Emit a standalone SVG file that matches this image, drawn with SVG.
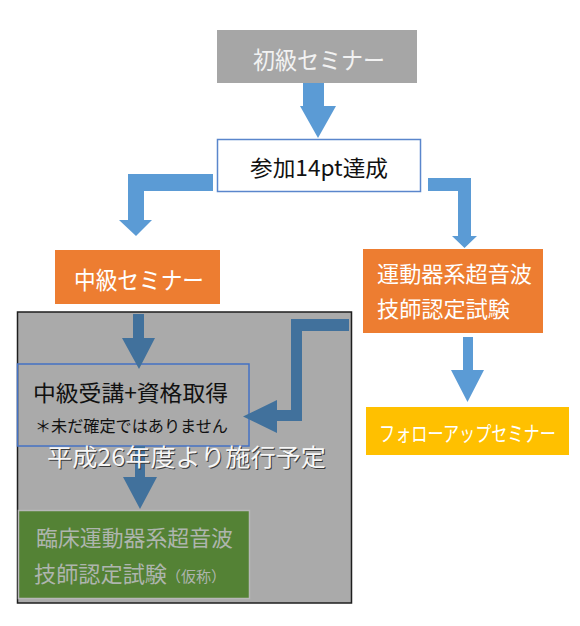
<svg xmlns="http://www.w3.org/2000/svg" width="580" height="626" viewBox="0 0 580 626">
<style>
text{font-family:"Noto Sans CJK JP","Noto Sans",sans-serif}
.lb{fill:#5b9bd5}
.db{fill:#41719c}
.w{fill:#ffffff}
.k{fill:#111111}
</style>
<rect x="0" y="0" width="580" height="626" fill="#ffffff"/>
<g id="frame">
<rect x="17.5" y="312" width="334" height="291" fill="#aaaaaa" stroke="#1e1e1e" stroke-width="1.5"/>
</g>
<g id="shokyu">
<rect x="217" y="30" width="200" height="53" fill="#a6a6a6"/>
<text x="253" y="68.5" font-size="24" fill="#f2f2f2" textLength="132" lengthAdjust="spacingAndGlyphs">初級セミナー</text>
</g>
<g id="sanka">
<rect x="217.5" y="139.5" width="203" height="52" fill="#ffffff" stroke="#5a86cc" stroke-width="1.5"/>
<text x="250" y="175.5" font-size="22" class="k" textLength="138" lengthAdjust="spacingAndGlyphs">参加14pt達成</text>
</g>
<g id="chukyu">
<rect x="55" y="250" width="165" height="54" fill="#ed7d31"/>
<text x="74" y="288.5" font-size="24" class="w" textLength="130" lengthAdjust="spacingAndGlyphs">中級セミナー</text>
</g>
<g id="undouki">
<rect x="363" y="249" width="180" height="84" fill="#ed7d31"/>
<text x="377" y="281.5" font-size="22" class="w" textLength="155" lengthAdjust="spacingAndGlyphs">運動器系超音波</text>
<text x="377" y="316.5" font-size="22" class="w" textLength="133" lengthAdjust="spacingAndGlyphs">技師認定試験</text>
</g>
<g id="followup">
<rect x="366" y="407" width="203" height="48" fill="#ffc000"/>
<text transform="translate(379,441) scale(0.8,1)" x="0" y="0" font-size="21" class="w" textLength="221" lengthAdjust="spacingAndGlyphs">フォローアップセミナー</text>
</g>
<g id="jukou">
<rect x="17.5" y="364" width="231.5" height="82" fill="none" stroke="#4472c4" stroke-width="1.5"/>
<text x="33" y="400.5" font-size="22" class="k" textLength="195" lengthAdjust="spacingAndGlyphs">中級受講+資格取得</text>
<text x="35" y="432" font-size="16" class="k" textLength="193" lengthAdjust="spacingAndGlyphs">＊未だ確定ではありません</text>
</g>
<g id="rinsho">
<rect x="18.5" y="510.5" width="231" height="88" fill="#548235" stroke="#b8b8b8" stroke-width="1.5"/>
<text x="36" y="545.5" font-size="22" fill="#aeb5ae" textLength="197" lengthAdjust="spacingAndGlyphs">臨床運動器系超音波</text>
<text x="34" y="581.5" font-size="22" fill="#aeb5ae"><tspan textLength="133" lengthAdjust="spacingAndGlyphs">技師認定試験</tspan><tspan x="166" font-size="15">（仮称）</tspan></text>
</g>
<g id="connectors">
<polygon class="lb" points="303,83 324,83 324,106 336,106 318,138 300,106 303,106"/>
<polygon class="lb" points="213,174 128,174 128,220 119,220 136,236 152,220 144,220 144,191 213,191"/>
<polygon class="lb" points="428,178 471,178 471,236 477,236 464.5,248 452,236 458,236 458,191 428,191"/>
<polygon class="lb" points="463,337 473,337 473,370 484,370 467.5,402 451,370 463,370"/>
<polygon class="db" points="133,314 144,314 144,338 155,338 139,369 122,338 133,338"/>
<polygon class="db" points="349,319 291,319 291,410 277,410 277,400 243,416.5 277,433 277,421 302,421 302,331 349,331"/>
<polygon class="db" points="135,446 145,446 145,477 157,477 140,509 123,477 135,477"/>
</g>
<g id="note">
<text x="48" y="466.5" font-size="24" fill="#3a3a3a" textLength="279" lengthAdjust="spacingAndGlyphs">平成26年度より施行予定</text>
<text x="47" y="465.5" font-size="24" fill="#f7f7f7" textLength="279" lengthAdjust="spacingAndGlyphs">平成26年度より施行予定</text>
</g>
</svg>
